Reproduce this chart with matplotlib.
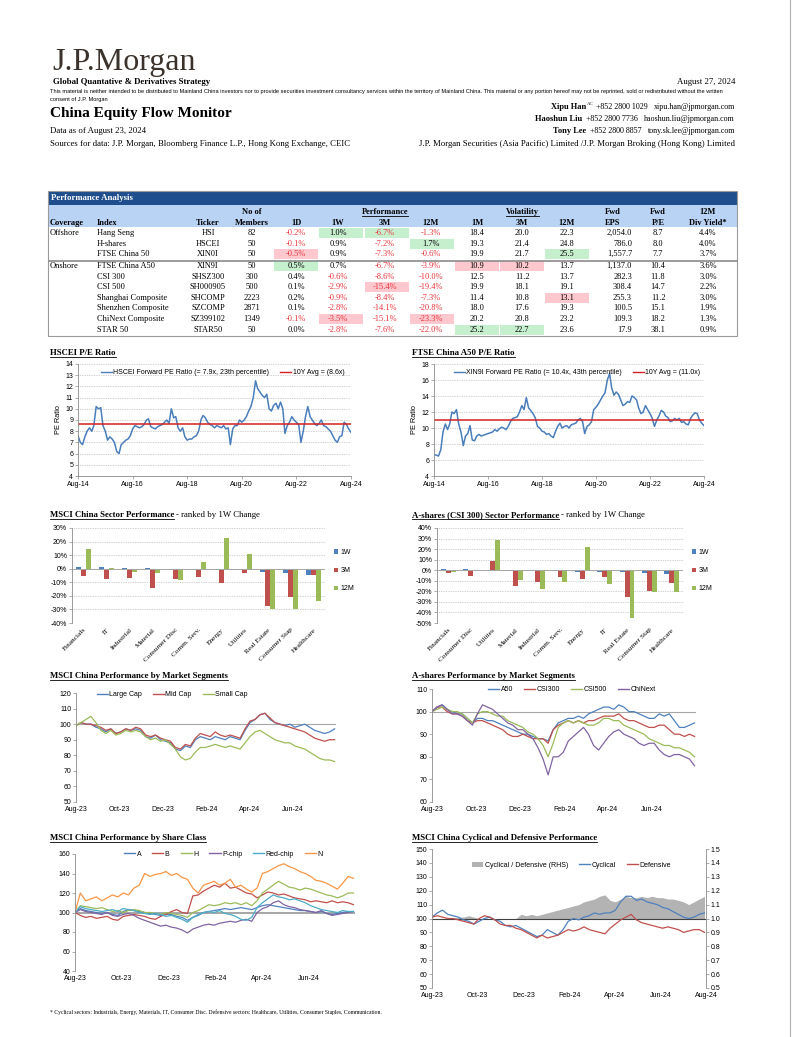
import matplotlib
matplotlib.use("Agg")
import matplotlib.pyplot as plt
import numpy as np
import pandas as pd
from matplotlib.patches import Rectangle, Patch
from matplotlib.lines import Line2D

W, H = 802, 1037
SERIF = ["Liberation Serif", "DejaVu Serif"]
SANS = ["Liberation Sans", "DejaVu Sans"]
plt.rcParams["font.family"] = SANS

BLUE, RED, GREEN = "#4f81bd", "#c0504d", "#9bbb59"
PURPLE, CYAN, ORANGE = "#8064a2", "#4bacc6", "#f79646"
NEG = "#e8333a"

# ---------------- table data ----------------
coverage = ["Offshore", "", "", "Onshore", "", "", "", "", "", ""]
index_names = ["Hang Seng", "H-shares", "FTSE China 50", "FTSE China A50", "CSI 300", "CSI 500",
               "Shanghai Composite", "Shenzhen Composite", "ChiNext Composite", "STAR 50"]
tickers = ["HSI", "HSCEI", "XIN0I", "XIN9I", "SHSZ300", "SH000905", "SHCOMP", "SZCOMP", "SZ399102", "STAR50"]
members = [82, 50, 50, 50, 300, 500, 2223, 2871, 1349, 50]
perf_1d = [-0.2, -0.1, -0.5, 0.5, 0.4, 0.1, 0.2, 0.1, -0.1, 0.0]
perf_1w = [1.0, 0.9, 0.9, 0.7, -0.6, -2.9, -0.9, -2.8, -3.5, -2.8]
perf_3m = [-6.7, -7.2, -7.3, -6.7, -8.6, -15.4, -8.4, -14.1, -15.1, -7.6]
perf_12m = [-1.3, 1.7, -0.6, -3.9, -10.0, -19.4, -7.3, -20.8, -23.3, -22.0]
vol_1m = [18.4, 19.3, 19.9, 10.9, 12.5, 19.9, 11.4, 18.0, 20.2, 25.2]
vol_3m = [20.0, 21.4, 21.7, 10.2, 11.2, 18.1, 10.8, 17.6, 20.8, 22.7]
vol_12m = [22.3, 24.8, 25.5, 13.7, 13.7, 19.1, 13.1, 19.3, 23.2, 23.6]
fwd_eps = [2054.0, 786.0, 1557.7, 1137.0, 282.3, 308.4, 255.3, 100.5, 109.3, 17.9]
fwd_pe = [8.7, 8.0, 7.7, 10.4, 11.8, 14.7, 11.2, 15.1, 18.2, 38.1]
div_yield = [4.4, 4.0, 3.7, 3.6, 3.0, 2.2, 3.0, 1.9, 1.3, 0.9]
highlights = [(0, "1W", "g"), (0, "3M", "g"), (1, "12M", "g"), (2, "1D", "r"), (2, "v12M", "g"),
              (3, "1D", "g"), (3, "v1M", "r"), (3, "v3M", "r"), (5, "3M", "r"), (6, "v12M", "r"),
              (8, "1W", "r"), (8, "12M", "r"), (9, "v1M", "g"), (9, "v3M", "g")]

# ---------------- P/E data (monthly, Aug-14 .. Aug-24) ----------------
hscei_pe = [7.6, 7.0, 6.8, 7.5, 8.0,
            8.3, 8.0, 8.5, 10.2, 10.0, 10.1, 8.5, 8.0, 7.2, 7.5, 7.3, 7.0,
            6.2, 6.0, 6.8, 7.0, 7.2, 7.3, 7.6, 8.2, 8.5, 8.4, 8.3, 8.4,
            8.6, 9.0, 9.1, 8.4, 8.3, 8.2, 8.4, 8.5, 8.6, 8.8, 9.0, 8.7,
            10.0, 9.2, 9.3, 8.3, 8.0, 8.3, 7.5, 7.2, 7.3, 7.3, 7.5, 7.6,
            8.0, 9.0, 9.4, 9.2, 8.8, 8.6, 8.5, 8.3, 8.5, 8.4, 8.3, 8.5,
            8.2, 8.3, 6.8, 8.2, 8.5, 8.5, 9.0, 8.8, 9.0, 9.3, 9.8, 10.2,
            11.0, 12.5, 11.8, 11.5, 11.2, 11.0, 11.3, 10.0, 9.8, 10.3, 10.5, 10.0,
            10.6, 10.0, 7.8, 8.5, 8.8, 9.3, 9.0, 8.8, 8.6, 7.0, 8.0, 9.3,
            10.2, 9.3, 9.0, 8.7, 8.5, 8.7, 9.0, 8.5, 8.4, 8.2, 8.0, 7.6,
            7.2, 7.0, 7.5, 7.6, 8.8, 8.6, 8.2, 7.9]
hscei_avg = 8.6
a50_pe = [6.7, 6.6, 6.5, 7.3, 9.5,
          10.5, 9.8, 10.5, 12.0, 11.8, 12.3, 10.5, 9.5, 7.8, 9.0, 9.3, 10.3,
          8.5, 8.4, 9.0, 9.2, 9.0, 9.1, 9.2, 9.3, 9.4, 9.5, 9.8, 9.6,
          9.9, 10.1, 10.0, 9.8, 10.2, 10.8, 11.2, 11.3, 11.4, 12.0, 12.8, 12.3,
          13.8, 12.5, 12.2, 11.8, 11.3, 10.2, 10.0, 9.6, 9.5, 9.2, 9.3, 9.0,
          8.8, 9.6, 10.2, 10.6, 10.0, 10.2, 10.3, 10.0, 10.4, 10.5, 10.6, 11.0,
          11.2, 10.8, 9.3, 10.2, 10.4, 10.8, 12.3, 12.6, 13.0, 13.5, 14.0, 14.4,
          16.0, 16.8, 15.0, 14.1, 14.5, 14.2, 13.5, 12.8, 13.0, 13.3, 13.2, 14.0,
          13.8, 13.5, 12.5, 11.8, 12.0, 12.8, 12.3, 11.8, 11.2, 10.2, 11.0, 11.5,
          12.2, 12.0, 11.5, 11.3, 10.8, 10.9, 11.2, 11.0, 11.2, 10.7, 10.8, 10.5,
          10.4, 11.2, 11.6, 11.9, 11.8, 11.0, 10.6, 10.3]
a50_avg = 11.0

# ---------------- sector data ----------------
msci_sectors = ["Financials", "IT", "Industrial", "Material", "Consumer Disc", "Comm. Serv.",
                "Energy", "Utilities", "Real Estate", "Consumer Stap", "Healthcare"]
msci_1w = [1.5, 1.5, 0.8, 0.3, 0.1, -0.3, -0.5, -1.2, -2.5, -3.0, -4.5]
msci_3m = [-5.0, -7.5, -6.5, -14.0, -7.5, -6.0, -10.5, -3.5, -27.5, -21.0, -4.5]
msci_12m = [14.5, 0.2, -2.5, -3.0, -8.5, 5.0, 23.0, 11.0, -30.0, -29.5, -24.0]
csi_sectors = ["Financials", "Consumer Disc", "Utilities", "Material", "Industrial", "Comm. Serv.",
               "Energy", "IT", "Real Estate", "Consumer Stap", "Healthcare"]
csi_1w = [1.0, 0.8, 0.1, -0.3, -0.5, -1.0, -1.5, -1.8, -2.0, -3.0, -3.5]
csi_3m = [-3.0, -5.5, 9.0, -15.0, -11.0, -6.0, -8.0, -6.5, -25.0, -20.0, -12.5]
csi_12m = [-1.5, -1.0, 29.0, -9.5, -18.0, -11.5, 22.0, -13.5, -45.5, -21.0, -21.0]

# ---------------- weekly series (23 Aug 2023 .. Aug 2024) ----------------
large_cap = [99, 101, 100, 100, 98, 97, 95, 97, 94, 95,
             97, 96, 97, 96, 92, 91, 93, 90, 89, 88,
             84, 83, 86, 85, 90, 92, 91, 90, 92, 91,
             90, 92, 91, 90, 96, 101, 103, 106, 107, 103,
             101, 100, 99, 100, 98, 99, 100, 98, 96, 95,
             94, 95, 97]
mid_cap = [99, 101, 100, 100, 99, 98, 96, 97, 94, 95,
           97, 96, 98, 97, 93, 92, 93, 91, 90, 89,
           85, 84, 87, 86, 91, 94, 93, 92, 95, 93,
           92, 93, 92, 91, 97, 102, 103, 106, 107, 104,
           101, 100, 99, 98, 97, 96, 95, 93, 91, 90,
           89, 90, 90]
small_cap = [99, 101, 103, 105, 101, 96, 94, 96, 93, 94,
             96, 95, 96, 95, 92, 90, 91, 89, 90, 87,
             84, 79, 77, 78, 82, 85, 85, 86, 87, 86,
             85, 86, 85, 84, 88, 92, 95, 96, 94, 92,
             90, 89, 88, 88, 86, 85, 84, 82, 80, 78,
             77, 77, 76]
a50_idx = [100, 102, 103, 101, 100, 99, 99, 97, 95, 97,
           97, 96, 96, 95, 94, 93, 92, 91, 90, 90,
           89, 88, 88, 87, 92, 95, 96, 97, 97, 98,
           97, 99, 100, 101, 102, 102, 101, 103, 102, 100,
           100, 99, 98, 97, 97, 99, 98, 99, 96, 93,
           93, 94, 95]
csi300_idx = [100, 102, 102, 100, 99, 99, 98, 96, 95, 96,
              96, 95, 94, 93, 92, 90, 89, 89, 90, 89,
              88, 88, 88, 86, 92, 94, 95, 96, 95, 96,
              95, 96, 96, 97, 98, 98, 98, 99, 97, 96,
              96, 95, 94, 93, 93, 94, 94, 92, 90, 90,
              89, 90, 89]
csi500_idx = [100, 101, 102, 101, 100, 100, 99, 97, 95, 99,
              100, 100, 99, 98, 98, 96, 95, 94, 93, 91,
              90, 88, 85, 80, 86, 93, 95, 96, 95, 96,
              95, 94, 94, 95, 97, 97, 96, 96, 94, 93,
              92, 91, 90, 88, 87, 86, 85, 85, 84, 84,
              83, 82, 80]
chinext_idx = [100, 102, 103, 101, 99, 99, 98, 96, 94, 99,
               103, 102, 101, 99, 97, 95, 94, 92, 92, 90,
               88, 84, 79, 72, 80, 80, 82, 87, 89, 91,
               93, 90, 85, 83, 86, 89, 91, 92, 90, 89,
               88, 86, 85, 86, 86, 83, 81, 80, 81, 81,
               80, 79, 76]
cls_a = [100, 104, 102, 101, 100, 99, 100, 98, 97, 101,
         103, 102, 101, 100, 99, 98, 97, 98, 98, 96,
         95, 92, 95, 97, 100, 101, 102, 103, 104, 103,
         104, 105, 104, 103, 105, 107, 108, 107, 106, 105,
         104, 103, 102, 102, 101, 100, 101, 99, 98, 99,
         100, 101, 101]
cls_b = [100, 97, 95, 96, 94, 95, 96, 93, 92, 96,
         97, 98, 97, 96, 94, 93, 96, 98, 101, 103,
         100, 99, 117, 118, 122, 125, 128, 126, 130, 125,
         126, 123, 120, 119, 115, 118, 121, 120, 118, 119,
         117, 115, 114, 113, 111, 112, 111, 110, 112, 110,
         111, 110, 108]
cls_h = [100, 107, 106, 105, 104, 105, 103, 101, 102, 100,
         102, 103, 102, 100, 100, 99, 98, 100, 99, 98,
         97, 95, 100, 102, 105, 108, 107, 108, 110, 109,
         110, 108, 110, 107, 112, 120, 124, 128, 132, 129,
         126, 125, 123, 125, 124, 122, 120, 118, 117, 115,
         117, 120, 120]
cls_pchip = [100, 103, 101, 100, 99, 98, 100, 97, 96, 98,
             99, 97, 94, 92, 90, 88, 86, 87, 85, 84,
             82, 79, 83, 85, 87, 88, 87, 89, 90, 91,
             90, 92, 93, 91, 100, 104, 106, 110, 112, 108,
             106, 105, 103, 102, 101, 100, 102, 99, 97, 98,
             99, 100, 101]
cls_redchip = [100, 106, 104, 103, 102, 101, 102, 103, 101, 104,
               103, 102, 100, 99, 98, 99, 98, 96, 97, 95,
               93, 90, 95, 98, 100, 101, 100, 102, 99, 98,
               96, 93, 92, 95, 105, 110, 114, 118, 116, 115,
               113, 114, 112, 110, 107, 105, 103, 102, 101, 100,
               102, 101, 101]
cls_n = [100, 120, 112, 114, 116, 112, 115, 118, 116, 120,
         118, 125, 128, 140, 137, 139, 140, 142, 138, 140,
         136, 134, 125, 120, 128, 130, 132, 128, 130, 134,
         126, 128, 124, 121, 125, 140, 142, 145, 148, 150,
         147, 145, 142, 140, 137, 133, 132, 130, 127, 124,
         130, 137, 135]
cyclical = [101, 104, 106, 103, 102, 101, 99, 98, 96, 98,
            100, 101, 99, 98, 95, 94, 95, 93, 91, 89,
            87, 88, 92, 90, 88, 92, 98, 100, 99, 101,
            102, 104, 103, 104, 104, 106, 112, 116, 116, 113,
            114, 112, 111, 110, 108, 107, 105, 103, 101, 100,
            101, 103, 104]
defensive = [101, 102, 101, 100, 100, 99, 98, 97, 96, 100,
             102, 101, 99, 96, 95, 95, 93, 92, 90, 88,
             86, 88, 86, 87, 88, 90, 92, 91, 92, 94,
             92, 91, 90, 89, 93, 96, 99, 101, 103, 99,
             97, 96, 95, 94, 93, 94, 93, 92, 90, 91,
             92, 92, 90]
cyc_def_ratio = [1.00, 1.00, 1.00, 1.00, 1.00, 1.01, 1.01, 1.02, 1.01, 1.00,
                 1.00, 1.00, 1.00, 1.00, 1.00, 1.00, 1.00, 1.03, 1.02, 1.03,
                 1.02, 1.03, 1.04, 1.05, 1.06, 1.07, 1.08, 1.09, 1.10, 1.12,
                 1.13, 1.14, 1.16, 1.17, 1.13, 1.12, 1.14, 1.16, 1.15, 1.15,
                 1.16, 1.15, 1.16, 1.15, 1.15, 1.14, 1.14, 1.13, 1.12, 1.10,
                 1.12, 1.14, 1.16]

pe_dates = pd.date_range("2014-08-01", periods=len(hscei_pe), freq="MS")
wk_dates = pd.date_range("2023-08-23", periods=len(large_cap), freq="7D")
pe_ticks = pd.to_datetime(["2014-08-01", "2016-08-01", "2018-08-01", "2020-08-01", "2022-08-01", "2024-08-01"])
wk_ticks = pd.to_datetime(["2023-08-23", "2023-10-23", "2023-12-23", "2024-02-23", "2024-04-23", "2024-06-23"])
wk_end = pd.Timestamp("2024-08-23")

# ---------------- figure / page ----------------
fig = plt.figure(figsize=(W / 100, H / 100), dpi=100)
fig.patch.set_facecolor("white")
page = fig.add_axes([0, 0, 1, 1])
page.set_xlim(0, W)
page.set_ylim(H, 0)
page.axis("off")
R = fig.canvas.get_renderer()


def txt(x, y, s, size=6, weight="normal", ha="left", va="center", color="black",
        family=SERIF, underline=False, **kw):
    t = page.text(x, y, s, fontsize=size, fontweight=weight, ha=ha, va=va,
                  color=color, family=family, **kw)
    if underline:
        bb = t.get_window_extent(renderer=R)
        yl = H - bb.y0 + 0.3
        page.plot([bb.x0, bb.x1], [yl, yl], color=color, lw=0.6)
    return t


def left_edge(t):
    return t.get_window_extent(renderer=R).x0


def px_axes(l, t, r, b):
    return fig.add_axes([l / W, 1 - b / H, (r - l) / W, (b - t) / H])


def excel_axes(ax, grid=False):
    ax.set_facecolor("none")
    for s in ("top", "right"):
        ax.spines[s].set_visible(False)
    for s in ("left", "bottom"):
        ax.spines[s].set_color("#8c8c8c")
        ax.spines[s].set_linewidth(0.6)
    ax.tick_params(labelsize=5, length=2, width=0.5, color="#8c8c8c", pad=1.5)
    if grid:
        ax.yaxis.grid(True, color="#a6a6a6", lw=0.5, ls=(0, (1, 1.5)))
        ax.set_axisbelow(True)


def date_labels(ax, ticks):
    ax.set_xticks(ticks)
    ax.set_xticklabels([d.strftime("%b-%y") for d in ticks])


def line_legend(ax, colors, labels, anchor, ncol=None):
    handles = [Line2D([], [], color=c, lw=1.0) for c in colors]
    ax.legend(handles, labels, loc="upper center", bbox_to_anchor=anchor, ncol=ncol or len(labels),
              frameon=False, fontsize=5, handlelength=1.6, handletextpad=0.2, columnspacing=1.6,
              borderaxespad=0)


# ---------------- header ----------------
txt(52, 70, "J.P.Morgan", size=23, va="baseline", color="#3b332b")
txt(53, 82, "Global Quantative & Derivatives Strategy", size=6.3, weight="bold")
txt(735, 82, "August 27, 2024", size=6.3, ha="right")
txt(50, 92, "This material is neither intended to be distributed to Mainland China investors nor to provide "
    "securities investment consultancy services within the territory of Mainland China. This material or any "
    "portion hereof may not be reprinted, sold or redistributed without the written", size=4.1, family=SANS)
txt(50, 99, "consent of J.P. Morgan", size=4.1, family=SANS)
txt(50, 113, "China Equity Flow Monitor", size=11, weight="bold")
txt(50, 131, "Data as of August 23, 2024", size=6.3)
txt(50, 144, "Sources for data: J.P. Morgan, Bloomberg Finance L.P., Hong Kong Exchange, CEIC", size=6.3)

contacts = [("Xipu Han", "+852 2800 1029", "xipu.han@jpmorgan.com", 107),
            ("Haoshun Liu", "+852 2800 7736", "haoshun.liu@jpmorgan.com", 119),
            ("Tony Lee", "+852 2800 8857", "tony.sk.lee@jpmorgan.com", 131)]
for name, phone, mail, y in contacts:
    t_mail = txt(735, y, mail, size=5.8, ha="right")
    t_phone = txt(left_edge(t_mail) - 6, y, phone, size=5.8, ha="right")
    gap = 10 if name == "Xipu Han" else 4
    t_name = txt(left_edge(t_phone) - gap, y, name, size=6, weight="bold", ha="right")
    if name == "Xipu Han":
        txt(left_edge(t_phone) - gap + 1, y - 3, "AC", size=3.5)
txt(735, 144, "J.P. Morgan Securities (Asia Pacific) Limited /J.P. Morgan Broking (Hong Kong) Limited",
    size=6.3, ha="right")
page.plot([790, 790], [0, H], color="#b0b0b0", lw=0.8)

# ---------------- table ----------------
TL, TR = 48, 737
page.add_patch(Rectangle((TL, 191), TR - TL, 14, fc="#1f4e8c", ec="none"))
txt(51, 198.5, "Performance Analysis", size=6.3, weight="bold", color="white")
page.add_patch(Rectangle((TL, 205), TR - TL, 22, fc="#b9d3f5", ec="none"))
page.add_patch(Rectangle((TL, 191), TR - TL, 145, fc="none", ec="#9a9a9a", lw=0.8))

cx = {"1D": 296, "1W": 338, "3M": 385, "12M": 431, "v1M": 477, "v3M": 522, "v12M": 567}
cell_l = {"1D": 274, "1W": 319, "3M": 365, "12M": 410, "v1M": 455, "v3M": 500, "v12M": 545}
h1, h2 = 212, 222.7
txt(50, h2, "Coverage", weight="bold")
txt(97, h2, "Index", weight="bold")
txt(208, h2, "Ticker", weight="bold", ha="center")
txt(252, h1, "No of", weight="bold", ha="center")
txt(252, h2, "Members", weight="bold", ha="center")
for key, lab in [("1D", "1D"), ("1W", "1W"), ("3M", "3M"), ("12M", "12M"),
                 ("v1M", "1M"), ("v3M", "3M"), ("v12M", "12M")]:
    txt(cx[key], h2, lab, weight="bold", ha="center")
txt(385, h1, "Performance", weight="bold", ha="center", underline=True)
txt(522, h1, "Volatility", weight="bold", ha="center", underline=True)
txt(613, h1, "Fwd", weight="bold", ha="center")
txt(613, h2, "EPS", weight="bold", ha="center")
txt(658, h1, "Fwd", weight="bold", ha="center")
txt(658, h2, "P/E", weight="bold", ha="center")
txt(708, h1, "12M", weight="bold", ha="center")
txt(708, h2, "Div Yield*", weight="bold", ha="center")


def row_y(i):
    return 233 + 10.6 * i + (1.2 if i >= 3 else 0)


for i, key, kind in highlights:
    page.add_patch(Rectangle((cell_l[key], row_y(i) - 5.0), 44, 10,
                             fc="#c6efce" if kind == "g" else "#ffc7ce", ec="none"))

page.plot([TL, TR], [259.6, 259.6], color="#8c8c8c", lw=0.6)
page.plot([TL, TR], [261.0, 261.0], color="#8c8c8c", lw=0.6)

pct_cols = [("1D", perf_1d), ("1W", perf_1w), ("3M", perf_3m), ("12M", perf_12m)]
vol_cols = [("v1M", vol_1m), ("v3M", vol_3m), ("v12M", vol_12m)]
for i in range(len(index_names)):
    y = row_y(i)
    txt(50, y, coverage[i])
    txt(97, y, index_names[i])
    txt(208, y, tickers[i], ha="center")
    txt(252, y, f"{members[i]}", ha="center")
    for key, vals in pct_cols:
        v = vals[i]
        txt(cx[key], y, f"{v:.1f}%", ha="center", color=NEG if v < 0 else "black")
    for key, vals in vol_cols:
        txt(cx[key], y, f"{vals[i]:.1f}", ha="center")
    txt(632, y, f"{fwd_eps[i]:,.1f}", ha="right")
    txt(658, y, f"{fwd_pe[i]:.1f}", ha="center")
    txt(708, y, f"{div_yield[i]:.1f}%", ha="center")

# ---------------- chart titles ----------------
txt(50, 353, "HSCEI P/E Ratio", size=6.3, weight="bold", underline=True)
txt(412, 353, "FTSE China A50 P/E Ratio", size=6.3, weight="bold", underline=True)
t = txt(50, 515, "MSCI China Sector Performance", size=6.3, weight="bold", underline=True)
txt(t.get_window_extent(renderer=R).x1 + 2, 515, "- ranked by 1W Change", size=6.3)
t = txt(412, 515, "A-shares (CSI 300) Sector Performance", size=6.3, weight="bold", underline=True)
txt(t.get_window_extent(renderer=R).x1 + 2, 515, "- ranked by 1W Change", size=6.3)
txt(50, 676, "MSCI China Performance by Market Segments", size=6.3, weight="bold", underline=True)
txt(412, 676, "A-shares Performance by Market Segments", size=6.3, weight="bold", underline=True)
txt(50, 838, "MSCI China Performance by Share Class", size=6.3, weight="bold", underline=True)
txt(412, 838, "MSCI China Cyclical and Defensive Performance", size=6.3, weight="bold", underline=True)
txt(50, 1012, "* Cyclical sectors: Industrials, Energy, Materials, IT, Consumer Disc. Defensive sectors: "
    "Healthcare, Utilities, Consumer Staples, Communication.", size=4.1)

# ---------------- P/E charts ----------------
for (l, t_, r, b), series, avg, ymin, ymax, step, lab, avg_lab in [
        ((78, 364, 351, 476), hscei_pe, hscei_avg, 4, 14, 1,
         "HSCEI Forward PE Ratio (= 7.9x, 23th percentile)", "10Y Avg = (8.6x)"),
        ((434, 364, 704, 476), a50_pe, a50_avg, 4, 18, 2,
         "XIN9I Forward PE Ratio (= 10.4x, 43th percentile)", "10Y Avg = (11.0x)")]:
    ax = px_axes(l, t_, r, b)
    excel_axes(ax, grid=True)
    ax.plot(pe_dates, series, color="#4a7ebb", lw=1.1)
    ax.axhline(avg, color="#d42020", lw=1.1)
    ax.set_ylim(ymin, ymax)
    ax.set_yticks(np.arange(ymin, ymax + 0.1, step))
    ax.set_xlim(pe_ticks[0], pe_ticks[-1])
    date_labels(ax, pe_ticks)
    ax.set_ylabel("PE Ratio", fontsize=5.3, labelpad=2)
    line_legend(ax, ["#4a7ebb", "#d42020"], [lab, avg_lab], (0.53, 0.98))

# ---------------- sector bar charts ----------------
for (l, t_, r, b), cats, s1, s2, s3, ymin, ymax in [
        ((72, 528, 325, 623), msci_sectors, msci_1w, msci_3m, msci_12m, -40, 30),
        ((437, 528, 683, 623), csi_sectors, csi_1w, csi_3m, csi_12m, -50, 40)]:
    ax = px_axes(l, t_, r, b)
    excel_axes(ax, grid=True)
    x = np.arange(len(cats))
    w = 0.22
    ax.bar(x - w, s1, w, color=BLUE, label="1W")
    ax.bar(x, s2, w, color=RED, label="3M")
    ax.bar(x + w, s3, w, color=GREEN, label="12M")
    ax.axhline(0, color="#a6a6a6", lw=0.7)
    ax.spines["bottom"].set_visible(False)
    ax.set_xlim(-0.5, len(cats) - 0.5)
    ax.set_ylim(ymin, ymax)
    ticks = np.arange(ymin, ymax + 1, 10)
    ax.set_yticks(ticks)
    ax.set_yticklabels([f"{v}%" for v in ticks])
    ax.set_xticks(x)
    ax.set_xticklabels(cats, rotation=45, ha="right", rotation_mode="anchor", fontsize=5.2, family=SERIF)
    ax.tick_params(axis="x", length=0, pad=3)
    ax.legend(loc="center left", bbox_to_anchor=(1.01, 0.55), frameon=False, fontsize=5,
              handlelength=0.6, handleheight=0.6, handletextpad=0.4, labelspacing=1.6)

# ---------------- weekly line charts ----------------
def weekly_axes(box, ymin, ymax, step, base_color="#a6a6a6", base_lw=0.8):
    ax = px_axes(*box)
    excel_axes(ax)
    ax.spines["bottom"].set_visible(False)
    ax.axhline(100, color=base_color, lw=base_lw, zorder=1)
    ax.set_ylim(ymin, ymax)
    ax.set_yticks(np.arange(ymin, ymax + 0.1, step))
    ax.set_xlim(wk_ticks[0], wk_end)
    date_labels(ax, wk_ticks)
    ax.tick_params(axis="x", length=0, pad=3)
    return ax


ax = weekly_axes((76, 693, 336, 802), 50, 120, 10)
for s, c in [(large_cap, BLUE), (mid_cap, RED), (small_cap, GREEN)]:
    ax.plot(wk_dates, s, color=c, lw=0.9)
line_legend(ax, [BLUE, RED, GREEN], ["Large Cap", "Mid Cap", "Small Cap"], (0.37, 1.04))

ax = weekly_axes((432, 689, 696, 802), 60, 110, 10)
for s, c in [(a50_idx, BLUE), (csi300_idx, RED), (csi500_idx, GREEN), (chinext_idx, PURPLE)]:
    ax.plot(wk_dates, s, color=c, lw=0.9)
line_legend(ax, [BLUE, RED, GREEN, PURPLE], ["A50", "CSI300", "CSI500", "ChiNext"], (0.53, 1.05))

ax = weekly_axes((75, 854, 355, 971), 40, 160, 20, base_lw=1.4)
for s, c in [(cls_a, BLUE), (cls_b, RED), (cls_h, GREEN), (cls_pchip, PURPLE),
             (cls_redchip, CYAN), (cls_n, ORANGE)]:
    ax.plot(wk_dates, s, color=c, lw=0.9)
line_legend(ax, [BLUE, RED, GREEN, PURPLE, CYAN, ORANGE],
            ["A", "B", "H", "P-chip", "Red-chip", "N"], (0.53, 1.05))

ax = weekly_axes((432, 849, 706, 988), 50, 150, 10, base_color="#404040", base_lw=0.8)
date_labels(ax, list(wk_ticks) + [wk_end])
ax2 = ax.twinx()
ax2.fill_between(wk_dates, 1.0, cyc_def_ratio, color="#b3b3b3", lw=0)
ax2.set_ylim(0.5, 1.5)
ax2.set_yticks(np.arange(0.5, 1.51, 0.1))
ax2.set_yticklabels([f"{v:.1f}" for v in np.arange(0.5, 1.51, 0.1)])
for s in ("top", "left", "bottom"):
    ax2.spines[s].set_visible(False)
ax2.spines["right"].set_color("#8c8c8c")
ax2.spines["right"].set_linewidth(0.6)
ax2.tick_params(labelsize=5, length=2, width=0.5, color="#8c8c8c", pad=1.5)
ax.set_zorder(ax2.get_zorder() + 1)
ax.plot(wk_dates, cyclical, color=BLUE, lw=0.9)
ax.plot(wk_dates, defensive, color=RED, lw=0.9)
ax.legend([Patch(fc="#b3b3b3", ec="none"), Line2D([], [], color=BLUE, lw=1.0), Line2D([], [], color=RED, lw=1.0)],
          ["Cyclical / Defensive (RHS)", "Cyclical", "Defensive"], loc="upper center",
          bbox_to_anchor=(0.51, 0.93), ncol=3, frameon=False, fontsize=5, handlelength=1.6,
          handletextpad=0.2, columnspacing=1.6, borderaxespad=0)

fig.savefig("out.png", dpi=100, facecolor="white")
